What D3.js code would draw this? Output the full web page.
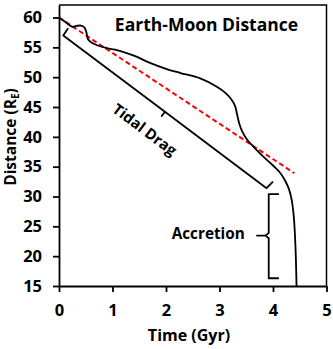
<!DOCTYPE html>
<html>
<head>
<meta charset="utf-8">
<script src="https://cdn.jsdelivr.net/npm/d3@7"></script>
<style>
  body { margin: 0; background: #fff; }
  svg text { font-family: "Open Sans", "DejaVu Sans", sans-serif; font-weight: bold; fill: #000; }
</style>
</head>
<body>
<script>
// model curve: time (Gyr) vs Earth-Moon distance (Earth radii)
const timeGyr = [0, 0.12, 0.25, 0.33, 0.41, 0.47, 0.51, 0.54, 0.6, 0.7, 0.88, 1.05, 1.4, 1.7, 2.0, 2.27, 2.64, 2.95, 3.12, 3.22, 3.29, 3.33, 3.37, 3.42, 3.51, 3.65, 3.83, 4.0, 4.14, 4.23, 4.3, 4.35, 4.39, 4.42, 4.44];
const distance = [60, 59.25, 58.45, 58.6, 58.65, 58.4, 57.6, 56.4, 55.85, 55.4, 54.9, 54.6, 53.6, 52.4, 51.4, 50.7, 49.8, 48.4, 47.3, 46.3, 45.2, 43.7, 42.2, 41.0, 39.6, 38.2, 36.6, 35.2, 33.9, 32.6, 31.2, 29.4, 26.5, 21.6, 15];

// red dashed linear trend
const trendTime = [0, 4.4];
const trendDist = [60, 33.9];

// bracket outlines (data units)
const tidalTime = [0.17, 0.08, 1.98, 1.92, 1.98, 3.88, 4.0];
const tidalDist = [58.2, 57.0, 44.2, 43.5, 44.2, 31.4, 32.5];
const accTime = [4.11, 3.92, 3.92, 3.86, 3.70, 3.86, 3.92, 3.92, 4.11];
const accDist = [30.4, 30.4, 23.9, 23.45, 23.45, 23.45, 23.0, 16.3, 16.3];

const xTicks = [0, 1, 2, 3, 4, 5];
const yTicks = [15, 20, 25, 30, 35, 40, 45, 50, 55, 60];

const width = 333, height = 349;
const margin = {top: 5, right: 6.5, bottom: 63, left: 59};

const svg = d3.select("body").append("svg")
  .attr("width", width)
  .attr("height", height);

const x = d3.scaleLinear().domain([0, 5]).range([margin.left, width - margin.right]);
const y = d3.scaleLinear().domain([15, 62.1]).range([height - margin.bottom, margin.top]);

// box (top + right)
svg.append("path")
  .attr("d", `M${x(0)},${y(62.1)}H${x(5)}V${y(15)}`)
  .attr("fill", "none")
  .attr("stroke", "#000")
  .attr("stroke-width", 1.5);

const xAxis = svg.append("g")
  .attr("transform", `translate(0,${y(15)})`)
  .call(d3.axisBottom(x).tickValues(xTicks).tickFormat(d3.format("d")).tickSize(6).tickSizeOuter(0).tickPadding(12));

const yAxis = svg.append("g")
  .attr("transform", `translate(${x(0)},0)`)
  .call(d3.axisLeft(y).tickValues(yTicks).tickFormat(d3.format("d")).tickSize(6).tickSizeOuter(0).tickPadding(11));

[xAxis, yAxis].forEach(g => {
  g.selectAll("path, line").attr("stroke", "#000").attr("stroke-width", 1.8);
  g.selectAll("text").style("font-size", "16.5px").attr("fill", "#000");
});

const lineGen = d3.line().x(d => x(d[0])).y(d => y(d[1]));

// trend line
svg.append("path")
  .attr("d", lineGen(d3.zip(trendTime, trendDist)))
  .attr("fill", "none")
  .attr("stroke", "#ff0000")
  .attr("stroke-width", 2)
  .attr("stroke-dasharray", "5,3");

// model curve
svg.append("path")
  .attr("d", lineGen.curve(d3.curveCatmullRom.alpha(0.5))(d3.zip(timeGyr, distance)))
  .attr("fill", "none")
  .attr("stroke", "#000")
  .attr("stroke-width", 1.8);

lineGen.curve(d3.curveLinear);

// brackets
[[tidalTime, tidalDist], [accTime, accDist]].forEach(([t, v]) => {
  svg.append("path")
    .attr("d", lineGen(d3.zip(t, v)))
    .attr("fill", "none")
    .attr("stroke", "#000")
    .attr("stroke-width", 1.8)
    .attr("stroke-linejoin", "round");
});

// labels
svg.append("text")
  .attr("x", 206.5).attr("y", 30.5)
  .attr("text-anchor", "middle")
  .style("font-size", "17.5px")
  .text("Earth-Moon Distance");

const angle = Math.atan2(y(31.4) - y(57.0), x(3.88) - x(0.08)) * 180 / Math.PI;
svg.append("text")
  .attr("transform", `translate(${x(1.61)},${y(41.3)}) rotate(${angle})`)
  .attr("text-anchor", "middle")
  .attr("dominant-baseline", "central")
  .style("font-size", "15px")
  .text("Tidal Drag");

svg.append("text")
  .attr("x", x(2.79)).attr("y", y(23.9))
  .attr("text-anchor", "middle")
  .attr("dominant-baseline", "central")
  .style("font-size", "15.3px")
  .text("Accretion");

svg.append("text")
  .attr("x", 189).attr("y", 341)
  .attr("text-anchor", "middle")
  .style("font-size", "16px")
  .text("Time (Gyr)");

const yl = svg.append("text")
  .attr("transform", "translate(15.5,137) rotate(-90)")
  .attr("text-anchor", "middle")
  .style("font-size", "15.5px");
yl.append("tspan").text("Distance (R");
yl.append("tspan").attr("dy", 3).style("font-size", "10px").text("E");
yl.append("tspan").attr("dy", -3).text(")");
</script>
</body>
</html>
